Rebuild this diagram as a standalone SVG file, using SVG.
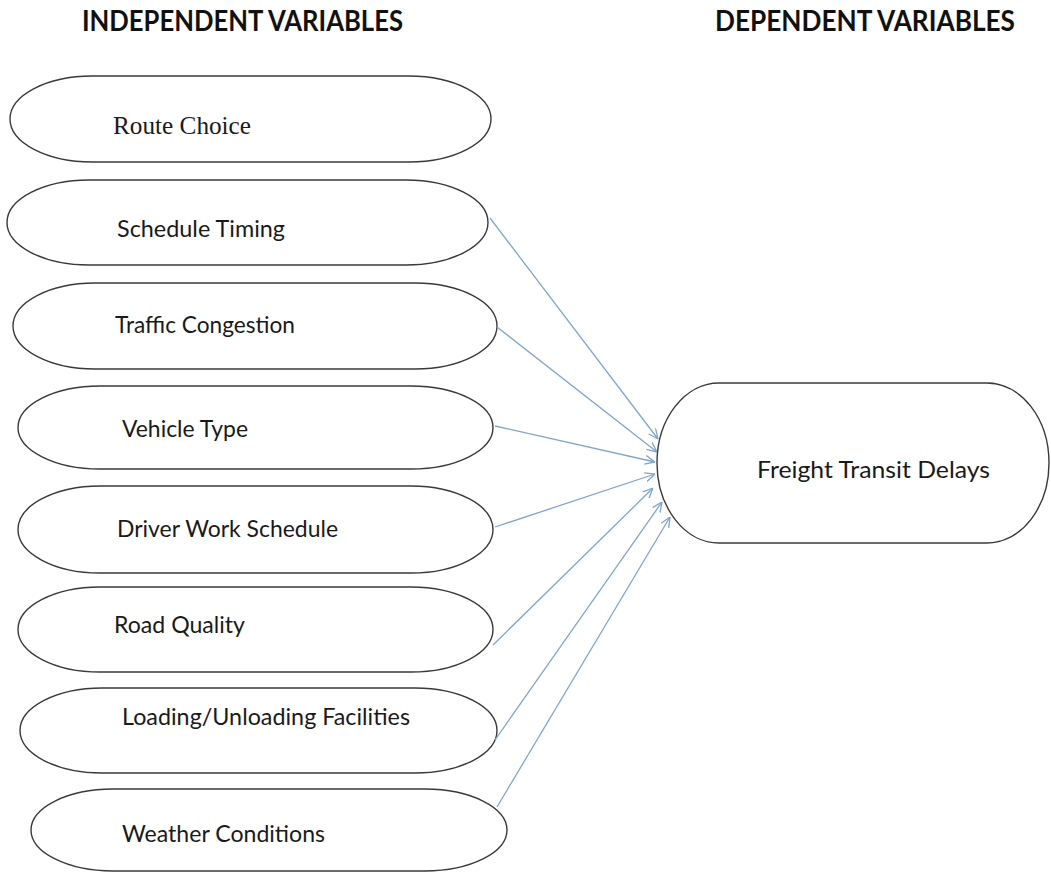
<svg xmlns="http://www.w3.org/2000/svg" width="1051" height="872" viewBox="0 0 1051 872">
<style>
.node{fill:#fff;stroke:#3a3a3a;stroke-width:1.4}
.hdr{font-family:Lato,"Open Sans",sans-serif;font-weight:bold;font-size:28px;fill:#111}
.lbl{font-family:Lato,"Open Sans",sans-serif;font-size:24px;fill:#1a1a1a}
.serif{font-family:"Liberation Serif","Times New Roman",serif;font-size:25px;fill:#1a1a1a}
.conn{stroke:#7fa6d0;stroke-width:1.3;fill:none;marker-end:url(#arr)}
</style>
<defs>
<marker id="arr" viewBox="0 0 10 10" refX="10" refY="5" markerWidth="10" markerHeight="10" markerUnits="userSpaceOnUse" orient="auto">
<path d="M0,0.5 L10,5 L0,9.5" fill="none" stroke="#7fa6d0" stroke-width="1.3"/>
</marker>
</defs>
<rect width="1051" height="872" fill="#fff"/>
<g id="headers">
<text class="hdr" x="82" y="31" textLength="321" lengthAdjust="spacingAndGlyphs">INDEPENDENT VARIABLES</text>
<text class="hdr" x="715" y="31" textLength="300" lengthAdjust="spacingAndGlyphs">DEPENDENT VARIABLES</text>
</g>
<g id="route-choice">
<rect class="node" x="10" y="76" width="481" height="86" rx="82" ry="43"/>
<text class="serif" x="113" y="134" textLength="138" lengthAdjust="spacingAndGlyphs">Route Choice</text>
</g>
<g id="schedule-timing">
<rect class="node" x="7" y="180" width="481" height="85" rx="82" ry="42.5"/>
<text class="lbl" x="117" y="237" textLength="168" lengthAdjust="spacingAndGlyphs">Schedule Timing</text>
</g>
<g id="traffic-congestion">
<rect class="node" x="13" y="283" width="484" height="86" rx="82" ry="43"/>
<text class="lbl" x="115" y="333" textLength="180" lengthAdjust="spacingAndGlyphs">Traffic Congestion</text>
</g>
<g id="vehicle-type">
<rect class="node" x="18" y="386" width="475" height="83" rx="82" ry="41.5"/>
<text class="lbl" x="122" y="437" textLength="126" lengthAdjust="spacingAndGlyphs">Vehicle Type</text>
</g>
<g id="driver-work-schedule">
<rect class="node" x="18" y="486" width="475" height="87" rx="82" ry="43.5"/>
<text class="lbl" x="117" y="537" textLength="221" lengthAdjust="spacingAndGlyphs">Driver Work Schedule</text>
</g>
<g id="road-quality">
<rect class="node" x="18" y="587" width="475" height="85" rx="82" ry="42.5"/>
<text class="lbl" x="114" y="633" textLength="131" lengthAdjust="spacingAndGlyphs">Road Quality</text>
</g>
<g id="loading-unloading">
<rect class="node" x="20" y="688" width="477" height="85" rx="82" ry="42.5"/>
<text class="lbl" x="122" y="725" textLength="288" lengthAdjust="spacingAndGlyphs">Loading/Unloading Facilities</text>
</g>
<g id="weather-conditions">
<rect class="node" x="31" y="789" width="476" height="82" rx="82" ry="41"/>
<text class="lbl" x="122" y="842" textLength="203" lengthAdjust="spacingAndGlyphs">Weather Conditions</text>
</g>
<g id="freight-transit-delays">
<rect class="node" x="657" y="383" width="392" height="160" rx="62" ry="80"/>
<text class="lbl" x="757" y="478" textLength="233" lengthAdjust="spacingAndGlyphs">Freight Transit Delays</text>
</g>
<g id="connectors">
<line class="conn" x1="490" y1="218" x2="658" y2="439"/>
<line class="conn" x1="497" y1="327" x2="657" y2="452"/>
<line class="conn" x1="495" y1="426" x2="655" y2="462"/>
<line class="conn" x1="495" y1="527" x2="655" y2="474"/>
<line class="conn" x1="493" y1="645" x2="653" y2="488"/>
<line class="conn" x1="495" y1="740" x2="662" y2="502"/>
<line class="conn" x1="497" y1="807" x2="670" y2="517"/>
</g>
</svg>
